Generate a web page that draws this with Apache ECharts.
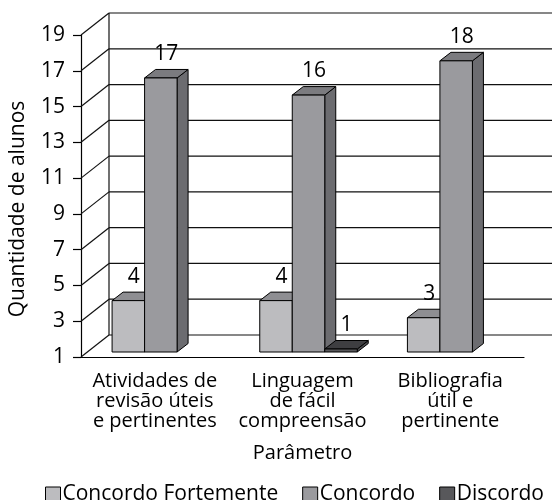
<!DOCTYPE html>
<html>
<head>
<meta charset="utf-8">
<script src="https://cdn.jsdelivr.net/npm/echarts@6/dist/echarts.min.js"></script>
<style>
  html, body { margin: 0; padding: 0; background: #fff; }
  #chart { width: 555px; height: 500px; }
</style>
</head>
<body>
<div id="chart"></div>
<script>
// dados
const categories = ['Atividades de\nrevisão úteis\ne pertinentes', 'Linguagem\nde fácil\ncompreensão', 'Bibliografia\nútil e\npertinente']
const seriesNames = ['Concordo Fortemente', 'Concordo', 'Discordo']
const concordoFortemente = [4, 4, 3]
const concordo = [17, 16, 18]
const discordo = [null, 1, null]
const yTicks = [1, 3, 5, 7, 9, 11, 13, 15, 17, 19]

// cores das faces (frente, topo, lado)
const frontColors = ['#bcbcbf', '#9a9a9e', '#58585b']
const topColors = ['#8e8e92', '#7b7b7f', '#3e3e41']
const sideColors = ['#a2a2a6', '#6c6c70', '#4a4a4d']
const FONT = 'Open Sans'

// profundidade da parede e das barras (projeção oblíqua)
const wallDx = 28, wallDy = 22
const barShiftX = 6, barShiftY = 5
const barDx = 11, barDy = 8.5
const barW = 32.5

function toData(arr) {
  let out = []
  arr.forEach((v, i) => { if (v != null) out.push([i, v]) })
  return out
}

function renderBar(params, api) {
  const s = params.seriesIndex
  const cat = api.value(0)
  const v = api.value(1)
  const base = api.coord([cat, 1])
  const top = api.coord([cat, v])
  const x0 = base[0] + barShiftX + (s - 1.5) * barW
  const yb = base[1] - barShiftY
  let yt = top[1] - barShiftY
  // barra com valor mínimo ainda aparece como uma placa fina
  if (yb - yt < 3) yt = yb - 3
  const stroke = { stroke: '#000', lineWidth: 1 }
  return {
    type: 'group',
    children: [
      { type: 'polygon', shape: { points: [[x0 + barW, yt], [x0 + barW + barDx, yt - barDy], [x0 + barW + barDx, yb - barDy], [x0 + barW, yb]] }, style: Object.assign({ fill: sideColors[s] }, stroke) },
      { type: 'polygon', shape: { points: [[x0, yt], [x0 + barDx, yt - barDy], [x0 + barW + barDx, yt - barDy], [x0 + barW, yt]] }, style: Object.assign({ fill: topColors[s] }, stroke) },
      { type: 'rect', shape: { x: x0, y: yt, width: barW, height: yb - yt }, style: Object.assign({ fill: frontColors[s] }, stroke) },
      { type: 'text', z2: 10, style: { x: x0 + barW / 2 + barDx / 2, y: yt - barDy - 5, text: String(v), align: 'center', verticalAlign: 'bottom', fill: '#000', font: '21px "' + FONT + '"' } }
    ]
  }
}

function renderWall(params, api) {
  const cs = params.coordSys
  const p = api.coord([0, api.value(1)])
  const y = p[1]
  const left = cs.x
  const right = cs.x + cs.width
  const ls = { stroke: '#111', lineWidth: 1.2 }
  let children = [
    { type: 'line', shape: { x1: left, y1: y, x2: left + wallDx, y2: y - wallDy }, style: ls },
    { type: 'line', shape: { x1: left + wallDx, y1: y - wallDy, x2: right + wallDx, y2: y - wallDy }, style: ls }
  ]
  if (params.dataIndex === 0) {
    children.push({ type: 'line', shape: { x1: left + wallDx, y1: y - wallDy, x2: left + wallDx, y2: cs.y - wallDy }, style: ls })
  }
  return { type: 'group', children: children }
}

let myChart = echarts.init(document.getElementById('chart'))
myChart.setOption({
  animation: false,
  textStyle: { fontFamily: FONT },
  grid: { left: 80, right: 31, top: 35, bottom: 143 },
  legend: {
    top: 479,
    left: 40,
    itemWidth: 15,
    itemHeight: 15,
    itemGap: 24,
    icon: 'rect',
    textStyle: { fontSize: 21, color: '#000', fontFamily: FONT, padding: [0, 0, 0, -3] },
    data: seriesNames.map((n, i) => ({ name: n, itemStyle: { color: frontColors[i], borderColor: '#000', borderWidth: 1 } }))
  },
  xAxis: {
    type: 'category',
    data: categories,
    name: 'Parâmetro',
    nameLocation: 'middle',
    nameGap: 86,
    nameTextStyle: { fontSize: 20, color: '#000', fontFamily: FONT },
    axisLine: { lineStyle: { color: '#000', width: 1.2 } },
    axisTick: { show: false },
    axisLabel: { interval: 0, margin: 14, fontSize: 20, lineHeight: 20, color: '#000', fontFamily: FONT }
  },
  yAxis: [
    {
      type: 'value',
      min: 1,
      max: 19,
      interval: 2,
      name: 'Quantidade de alunos',
      nameLocation: 'middle',
      nameGap: 52,
      nameTextStyle: { fontSize: 21, color: '#000', fontFamily: FONT, padding: [0, 26, 0, 0] },
      axisLine: { show: true, lineStyle: { color: '#000', width: 1.2 } },
      axisTick: { show: true, length: 8, lineStyle: { color: '#000', width: 1.2 } },
      axisLabel: { margin: 16, fontSize: 21, color: '#000', fontFamily: FONT },
      splitLine: { show: false }
    },
    {
      // escala das barras (ficam mais ao fundo do gráfico 3D)
      type: 'value',
      min: 1,
      max: 19.8,
      show: false,
      splitLine: { show: false }
    }
  ],
  series: [
    { name: seriesNames[0], type: 'custom', yAxisIndex: 1, z: 3, renderItem: renderBar, data: toData(concordoFortemente), itemStyle: { color: frontColors[0] } },
    { name: seriesNames[1], type: 'custom', yAxisIndex: 1, z: 3, renderItem: renderBar, data: toData(concordo), itemStyle: { color: frontColors[1] } },
    { name: seriesNames[2], type: 'custom', yAxisIndex: 1, z: 3, renderItem: renderBar, data: toData(discordo), itemStyle: { color: frontColors[2] } },
    { name: 'parede', type: 'custom', yAxisIndex: 0, z: 1, silent: true, renderItem: renderWall, data: yTicks.map(v => [0, v]) }
  ]
})
</script>
</body>
</html>
